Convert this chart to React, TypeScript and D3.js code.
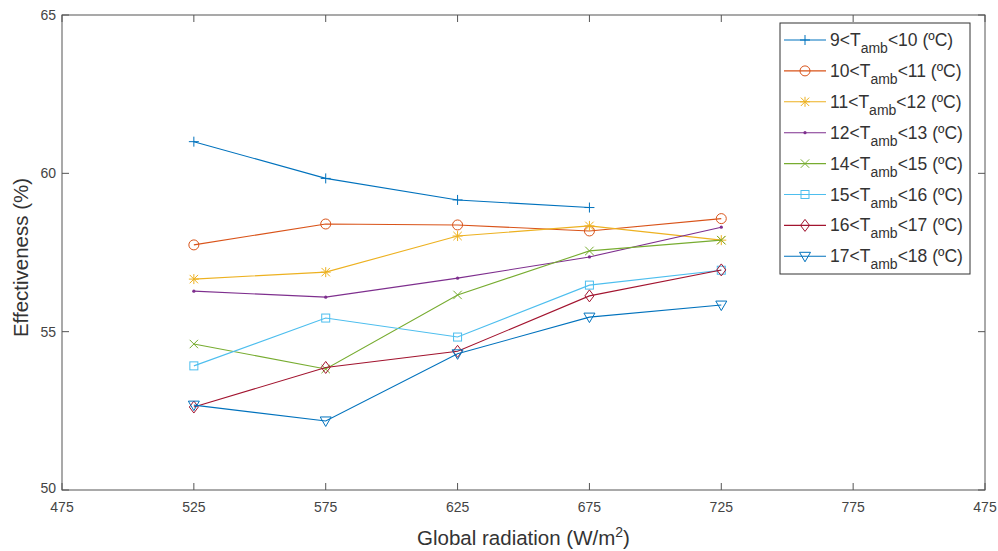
import React from "react";
import * as d3 from "d3";

const radiation = [525, 575, 625, 675, 725];
const seriesNames = ["9<", "10<", "11<", "12<", "14<", "15<", "16<", "17<"];
const seriesUpper = ["<10 (ºC)", "<11 (ºC)", "<12 (ºC)", "<13 (ºC)", "<15 (ºC)", "<16 (ºC)", "<17 (ºC)", "<18 (ºC)"];
const t9_10 = [61.0, 59.84, 59.16, 58.92, null];
const t10_11 = [57.74, 58.4, 58.37, 58.18, 58.57];
const t11_12 = [56.66, 56.88, 58.02, 58.34, 57.89];
const t12_13 = [56.28, 56.09, 56.69, 57.36, 58.3];
const t14_15 = [54.61, 53.82, 56.16, 57.55, 57.89];
const t15_16 = [53.92, 55.43, 54.83, 56.47, 56.94];
const t16_17 = [52.62, 53.87, 54.38, 56.13, 56.95];
const t17_18 = [52.68, 52.18, 54.3, 55.46, 55.84];
const allSeries = [t9_10, t10_11, t11_12, t12_13, t14_15, t15_16, t16_17, t17_18];
const colors = ["#0072BD", "#D95319", "#EDB120", "#7E2F8E", "#77AC30", "#4DBEEE", "#A2142F", "#0072BD"];
const markers = ["plus", "circle", "star", "dot", "x", "square", "diamond", "triangle"];
const xTickValues = [475, 525, 575, 625, 675, 725, 775, 825];
const xTickLabels = ["475", "525", "575", "625", "675", "725", "775", "475"];
const yTickValues = [50, 55, 60, 65];

const W = 998, H = 551;
const M = { left: 62, right: 985, top: 15, bottom: 490 };
const FONT = "'Liberation Sans', Arial, sans-serif";

function Marker({ type, x, y, color }: { type: string; x: number; y: number; color: string }) {
  const s = 5;
  const common = { stroke: color, strokeWidth: 1, fill: "none" };
  switch (type) {
    case "plus":
      return <path d={`M${x - s},${y}H${x + s}M${x},${y - s}V${y + s}`} {...common} />;
    case "circle":
      return <circle cx={x} cy={y} r={5} {...common} />;
    case "star": {
      const a = 4.2;
      return (
        <path
          d={`M${x - s},${y}H${x + s}M${x},${y - s}V${y + s}M${x - a},${y - a}L${x + a},${y + a}M${x - a},${y + a}L${x + a},${y - a}`}
          {...common}
        />
      );
    }
    case "dot":
      return <circle cx={x} cy={y} r={1.6} fill={color} stroke="none" />;
    case "x": {
      const a = 4.2;
      return <path d={`M${x - a},${y - a}L${x + a},${y + a}M${x - a},${y + a}L${x + a},${y - a}`} {...common} />;
    }
    case "square":
      return <rect x={x - 4} y={y - 4} width={8} height={8} {...common} />;
    case "diamond":
      return <path d={`M${x},${y - 6}L${x + 4.5},${y}L${x},${y + 6}L${x - 4.5},${y}Z`} {...common} />;
    case "triangle":
      return <path d={`M${x - 5.5},${y - 4}L${x + 5.5},${y - 4}L${x},${y + 5.5}Z`} {...common} />;
    default:
      return null;
  }
}

export default function App() {
  const x = d3.scaleLinear().domain([475, 825]).range([M.left, M.right]);
  const y = d3.scaleLinear().domain([50, 65]).range([M.bottom, M.top]);
  const line = d3
    .line<[number, number | null]>()
    .defined((d) => d[1] != null)
    .x((d) => x(d[0]))
    .y((d) => y(d[1] as number));

  const axisColor = "#555";
  const textColor = "#333";
  const tick = 7;

  const legX = 780, legY = 23, legW = 190, legH = 251;
  const legStep = 30.9;

  return (
    <svg width={W} height={H} style={{ position: "absolute", left: 0, top: 0, background: "#fff" }} fontFamily={FONT}>
      <rect x={0} y={0} width={W} height={H} fill="#fff" />
      {/* axes box */}
      <rect x={M.left} y={M.top} width={M.right - M.left} height={M.bottom - M.top} fill="none" stroke={axisColor} strokeWidth={1} />
      {xTickValues.map((v, i) => (
        <g key={"xt" + i}>
          <line x1={x(v)} x2={x(v)} y1={M.bottom} y2={M.bottom - tick} stroke={axisColor} />
          <line x1={x(v)} x2={x(v)} y1={M.top} y2={M.top + tick} stroke={axisColor} />
          <text x={x(v)} y={512} textAnchor="middle" fontSize={14} fill="#444">
            {xTickLabels[i]}
          </text>
        </g>
      ))}
      {yTickValues.map((v, i) => (
        <g key={"yt" + i}>
          <line x1={M.left} x2={M.left + tick} y1={y(v)} y2={y(v)} stroke={axisColor} />
          <line x1={M.right} x2={M.right - tick} y1={y(v)} y2={y(v)} stroke={axisColor} />
          <text x={56} y={y(v)} dy={v === 50 ? "0.2em" : "0.35em"} textAnchor="end" fontSize={14} fill="#444">
            {v}
          </text>
        </g>
      ))}
      {/* axis labels */}
      <text x={(M.left + M.right) / 2} y={545} textAnchor="middle" fontSize={20.5} fill={textColor}>
        Global radiation (W/m
        <tspan dy={-8} fontSize={14}>2</tspan>
        <tspan dy={8}>)</tspan>
      </text>
      <text transform={`translate(28,${(M.top + M.bottom) / 2 + 5}) rotate(-90)`} textAnchor="middle" fontSize={20.5} fill={textColor}>
        Effectiveness (%)
      </text>
      {/* series */}
      {allSeries.map((s, si) => {
        const pts: [number, number | null][] = radiation.map((r, i) => [r, s[i]]);
        return (
          <g key={"s" + si}>
            <path d={line(pts) || ""} fill="none" stroke={colors[si]} strokeWidth={1.1} />
            {pts
              .filter((p) => p[1] != null)
              .map((p, i) => (
                <Marker key={i} type={markers[si]} x={x(p[0])} y={y(p[1] as number)} color={colors[si]} />
              ))}
          </g>
        );
      })}
      {/* legend */}
      <rect x={legX} y={legY} width={legW} height={legH} fill="#fff" stroke="#333" strokeWidth={1} />
      {seriesNames.map((n, i) => {
        const ly = 40 + i * legStep;
        return (
          <g key={"l" + i}>
            <line x1={784} x2={826} y1={ly} y2={ly} stroke={colors[i]} strokeWidth={1.1} />
            <Marker type={markers[i]} x={805} y={ly} color={colors[i]} />
            <text x={830} y={ly + 6} fontSize={17.5} fill={textColor}>
              {n}T
              <tspan dy={7} fontSize={14}>amb</tspan>
              <tspan dy={-7}>{seriesUpper[i]}</tspan>
            </text>
          </g>
        );
      })}
    </svg>
  );
}
